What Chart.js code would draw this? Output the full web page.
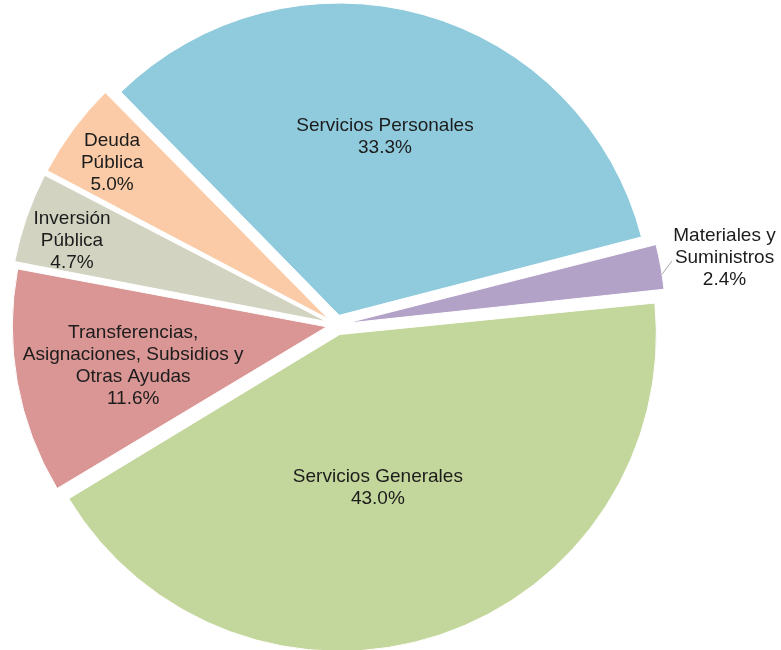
<!DOCTYPE html>
<html>
<head>
<meta charset="utf-8">
<style>
html,body{margin:0;padding:0;background:#fff;overflow:hidden}
#wrap{position:absolute;left:0;top:0;width:781px;height:650px}
</style>
<script src="https://cdn.jsdelivr.net/npm/chart.js@4.4.1/dist/chart.umd.min.js"></script>
</head>
<body>
<div id="wrap"><canvas id="c" width="781" height="650"></canvas></div>
<script>
// ---- data ----
const categories = [
  ['Materiales y', 'Suministros'],
  ['Servicios Generales'],
  ['Transferencias,', 'Asignaciones, Subsidios y', 'Otras Ayudas'],
  ['Inversión', 'Pública'],
  ['Deuda', 'Pública'],
  ['Servicios Personales']
];
const shares = [2.4, 43.0, 11.6, 4.7, 5.0, 33.3];

// ---- styles ----
const sliceColors = ['#B3A2C7', '#C3D69B', '#D99694', '#D2D4C1', '#FACBA6', '#90CBDD'];
const labelRadius = [1.266, 0.54, 0.667, 0.893, 0.89, 0.624];
const labelAngleShift = [0.4, 4.2, -1.2, -1.4, -0.8, -1.1];

const pieLabels = {
  id: 'pieLabels',
  afterDatasetsDraw(chart) {
    const ctx = chart.ctx;
    const meta = chart.getDatasetMeta(0);
    ctx.save();
    ctx.font = '19px "Liberation Sans", Arial, sans-serif';
    ctx.fillStyle = '#1c1c1c';
    ctx.textAlign = 'center';
    ctx.textBaseline = 'middle';
    const lh = 22;
    meta.data.forEach((arc, i) => {
      const p = arc.getProps(['x', 'y', 'startAngle', 'endAngle', 'outerRadius'], true);
      const midReal = (p.startAngle + p.endAngle) / 2;
      const mid = midReal + labelAngleShift[i] * Math.PI / 180;
      const r = p.outerRadius * labelRadius[i];
      const lx = p.x + Math.cos(mid) * r;
      const ly = p.y + Math.sin(mid) * r;
      const lines = categories[i].concat([shares[i].toFixed(1) + '%']);
      lines.forEach((t, k) => {
        ctx.fillText(t, lx, ly + (k - (lines.length - 1) / 2) * lh);
      });
      if (labelRadius[i] > 1) {
        const a = midReal + 0.6 * Math.PI / 180;
        const r0 = p.outerRadius * 1.062;
        const sx = p.x + Math.cos(a) * r0;
        const sy = p.y + Math.sin(a) * r0 + 4;
        const w = ctx.measureText(lines[1]).width;
        const ex = lx - w / 2 - 3;
        const ey = ly + 3;
        ctx.beginPath();
        ctx.strokeStyle = '#A6A6A6';
        ctx.lineWidth = 1;
        ctx.moveTo(sx, sy);
        ctx.lineTo(ex, ey);
        ctx.stroke();
      }
    });
    ctx.restore();
  }
};

new Chart(document.getElementById('c'), {
  type: 'pie',
  data: {
    labels: categories,
    datasets: [{
      data: shares,
      backgroundColor: sliceColors,
      borderColor: '#ffffff',
      borderWidth: 1,
      offset: 40,
      hoverOffset: 0
    }]
  },
  options: {
    responsive: false,
    animation: false,
    rotation: 75.5,
    radius: 311,
    events: [],
    layout: { padding: { left: 0, right: 108, top: 0, bottom: 0 } },
    plugins: {
      legend: { display: false },
      tooltip: { enabled: false }
    }
  },
  plugins: [pieLabels]
});
</script>
</body>
</html>
